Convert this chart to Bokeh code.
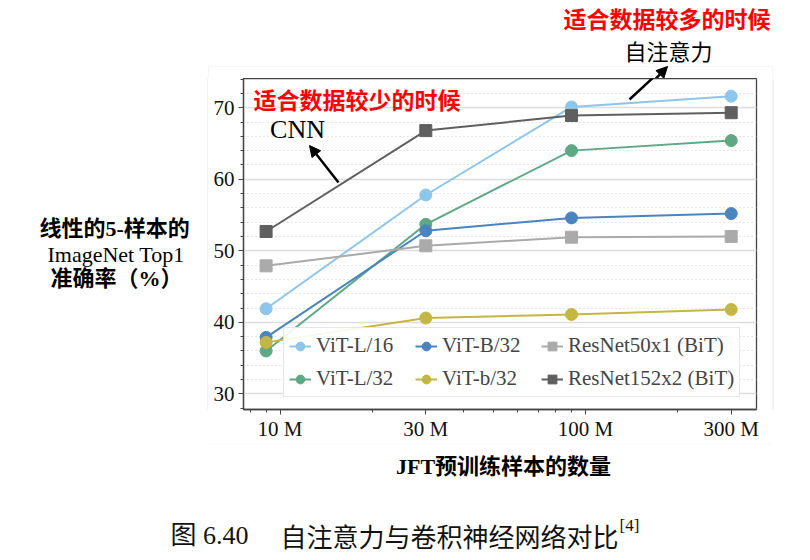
from bokeh.plotting import figure
from bokeh.layouts import column, row
from bokeh.models import (Label, Arrow, NormalHead, BoxAnnotation, Span, Legend, LegendItem,
                          FixedTicker, SingleIntervalTicker, PrintfTickFormatter, Range1d)
from bokeh.embed import file_html
from bokeh.resources import INLINE

# ---- data ----
sizes_m = [9, 30, 90, 300]          # JFT pre-training subset size, millions
vit_l16 = [41.9, 57.8, 70.1, 71.6]
vit_l32 = [36.0, 53.7, 64.0, 65.4]
vit_b32 = [37.9, 52.8, 54.6, 55.2]
vit_b32s = [37.2, 40.6, 41.1, 41.8]
resnet50x1 = [47.9, 50.7, 51.9, 52.0]
resnet152x2 = [52.7, 66.8, 68.9, 69.3]

series_names = ["ViT-L/16", "ViT-L/32", "ViT-B/32", "ViT-b/32",
                "ResNet50x1 (BiT)", "ResNet152x2 (BiT)"]
series_vals = [vit_l16, vit_l32, vit_b32, vit_b32s, resnet50x1, resnet152x2]
series_colors = ["#8ec5ea", "#5fa885", "#4a84bf", "#c4b642", "#aaaaaa", "#5f5f5f"]
series_markers = ["circle", "circle", "circle", "circle", "square", "square"]

x_ticks = [10, 30, 100, 300]
x_minor = [8, 9, 20, 40, 50, 60, 70, 80, 90, 200]

SERIF = "Liberation Serif"
CJK = "Noto Sans CJK SC"
MIX = "Liberation Serif, Noto Sans CJK SC"
FAINT = "#e4e4e4"

TOP_H, MID_H, BOT_H = 78, 365, 112
LEFT_W, MAIN_W, RIGHT_W = 208, 564, 36


def pane(w, h):
    f = figure(width=w, height=h, x_range=Range1d(0, w), y_range=Range1d(h, 0),
               output_backend="svg", toolbar_location=None, min_border=0,
               x_axis_location=None, y_axis_location=None)
    f.outline_line_color = None
    f.grid.visible = False
    f.background_fill_color = "white"
    f.border_fill_color = "white"
    return f


def lab(f, text, x, y, font, size, color="black", style="normal", align="left"):
    f.add_layout(Label(x=x, y=y, text=text, text_font=font, text_font_size=size,
                       text_color=color, text_font_style=style,
                       text_align=align, text_baseline="middle"))


# ---------------- main chart ----------------
p = figure(width=MAIN_W, height=MID_H, x_axis_type="log",
           x_range=Range1d(7.59, 363), y_range=Range1d(27.82, 74.08),
           output_backend="svg", toolbar_location=None,
           min_border_left=35, min_border_right=16,
           min_border_top=0, min_border_bottom=31)
p.background_fill_color = "white"
p.border_fill_color = "white"
p.outline_line_color = "#444444"
p.outline_line_width = 1.3

p.xaxis.ticker = FixedTicker(ticks=x_ticks, minor_ticks=x_minor)
p.xaxis.formatter = PrintfTickFormatter(format="%d M")
yt = SingleIntervalTicker(interval=10, num_minor_ticks=5)
p.yaxis.ticker = yt
p.ygrid.ticker = yt
p.xgrid.visible = False
p.ygrid.grid_line_color = "#dddddd"
p.ygrid.grid_line_width = 1.3
p.ygrid.minor_grid_line_color = "#cccccc"
p.ygrid.minor_grid_line_dash = "1 3"
p.ygrid.minor_grid_line_width = 1

for ax in (p.xaxis, p.yaxis):
    ax.axis_line_color = "#444444"
    ax.axis_line_width = 1.3
    ax.major_tick_line_color = "#444444"
    ax.minor_tick_line_color = "#444444"
    ax.major_tick_in = 0
    ax.major_tick_out = 5
    ax.minor_tick_in = 0
    ax.minor_tick_out = 3
    ax.major_label_text_font = SERIF
    ax.major_label_text_font_size = "21px"
    ax.major_label_text_color = "#111111"
p.xaxis.major_label_standoff = 2
p.yaxis.major_label_standoff = 4

items = []
for name, vals, col, mk in zip(series_names, series_vals, series_colors, series_markers):
    lr = p.line(sizes_m, vals, line_color=col, line_width=2)
    sr = p.scatter(sizes_m, vals, marker=mk, size=12, fill_color=col, line_color=col)
    items.append(LegendItem(label=name, renderers=[lr, sr]))

legend = Legend(items=items, location=(40, 12), orientation="vertical", ncols=3,
                label_text_font=SERIF, label_text_font_size="21px",
                label_height=24, label_width=91, glyph_height=24, glyph_width=22,
                label_standoff=5, spacing=8, padding=5, margin=0,
                border_line_color="#cccccc", border_line_width=1,
                background_fill_color="white", background_fill_alpha=0.9)
p.add_layout(legend)

# frame-relative screen positions (frame left = 243, bottom = 412 in page px)
FL, FB = 243, 412
p.add_layout(Label(x=253 - FL, y=FB - 101, x_units="screen", y_units="screen",
                   text="适合数据较少的时候", text_font=CJK, text_font_size="23px",
                   text_color="#ff0000", text_font_style="bold", text_baseline="middle"))
p.add_layout(Label(x=297 - FL, y=FB - 132, x_units="screen", y_units="screen",
                   text="CNN", text_font=SERIF, text_font_size="26px",
                   text_color="black", text_align="center", text_baseline="middle"))
p.add_layout(Arrow(end=NormalHead(size=11, fill_color="black", line_color="black"),
                   x_start=338 - FL, y_start=FB - 185, x_end=309 - FL, y_end=FB - 148,
                   start_units="screen", end_units="screen",
                   line_color="black", line_width=2.5))
# lower part of the self-attention arrow (continues into the top pane)
p.add_layout(Arrow(end=None, x_start=629 - FL, y_start=FB - 102,
                   x_end=656 - FL, y_end=FB - 77,
                   start_units="screen", end_units="screen",
                   line_color="black", line_width=2.5))

# ---------------- top pane ----------------
top = pane(LEFT_W + MAIN_W + RIGHT_W, TOP_H)
top.add_layout(BoxAnnotation(left=208, right=772, top=66, bottom=TOP_H + 5,
                             fill_alpha=0, line_color=FAINT, line_width=1))
lab(top, "适合数据较多的时候", 563, 17, CJK, "23px", "#ff0000", "bold")
lab(top, "自注意力", 668, 49, CJK, "22px", "black", "normal", "center")
top.add_layout(Arrow(end=NormalHead(size=11, fill_color="black", line_color="black"),
                     x_start=654.5, y_start=TOP_H + 1, x_end=667, y_end=66,
                     line_color="black", line_width=2.5))

# ---------------- left pane (y title) ----------------
left = pane(LEFT_W, MID_H)
left.add_layout(Span(location=LEFT_W - 0.5, dimension="height", line_color=FAINT, line_width=1))
lab(left, "线性的5-样本的", 39, 165, MIX, "22px", "black", "bold")
lab(left, "ImageNet Top1", 47, 194, SERIF, "22px", "black", "normal")
lab(left, "准确率（%）", 50, 221, MIX, "22px", "black", "bold")

# ---------------- right pane ----------------
right = pane(RIGHT_W, MID_H)
right.add_layout(Span(location=0.5, dimension="height", line_color=FAINT, line_width=1))

# ---------------- bottom pane (x title + caption) ----------------
Y0 = TOP_H + MID_H
bottom = pane(LEFT_W + MAIN_W + RIGHT_W, BOT_H)
bottom.add_layout(BoxAnnotation(left=208, right=772, top=-5, bottom=0.5,
                                fill_alpha=0, line_color=FAINT, line_width=1))
lab(bottom, "JFT预训练样本的数量", 503, 466 - Y0, MIX, "22px", "black", "bold", "center")
lab(bottom, "图 6.40", 248, 535 - Y0, MIX, "26px", "#111111", "normal", "right")
lab(bottom, "自注意力与卷积神经网络对比", 280, 535 - Y0, CJK, "26px", "#111111", "normal")
lab(bottom, "[4]", 619, 525 - Y0, SERIF, "17px", "#111111", "normal")

layout = column(top, row(left, p, right), bottom)
open("out.html", "w").write(file_html(layout, INLINE))
